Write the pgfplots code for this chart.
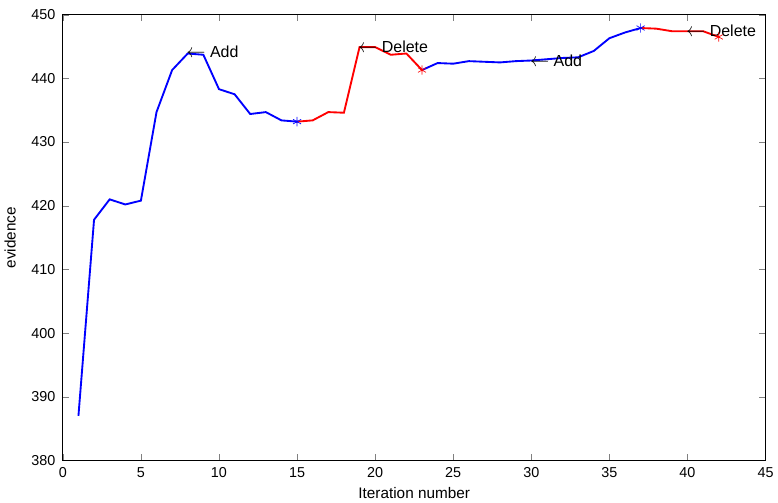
\documentclass[border=0pt]{standalone}
\usepackage{pgfplots}
\pgfplotsset{compat=1.18}
\usepackage{fontspec}
\setmainfont{Liberation Sans}
\newcommand{\larr}{{\fontsize{14}{14}\selectfont$\leftarrow$}}
\begin{document}
\begin{tikzpicture}
\begin{axis}[
    width=528pt, height=335pt,
    scale only axis,
    xmin=0, xmax=45, ymin=380, ymax=450,
    xtick={0,5,...,45}, ytick={380,390,...,450},
    tick align=inside,
    tick pos=both,
    major tick length=5pt,
    xlabel={Iteration number},
    ylabel={evidence},
    xlabel style={yshift=0pt},
    ylabel style={yshift=5pt},
    yticklabel style={xshift=-2pt},
    xticklabel style={yshift=-2pt},
    tick label style={font=\fontsize{10.8}{12}\selectfont},
    label style={font=\fontsize{11.5}{13}\selectfont},
    /pgf/number format/assume math mode=true,
    axis line style={line width=0.6pt},
    clip=false,
]
% add phases (blue)
\addplot[blue, line width=1.4pt] coordinates {
 (1,387.0)(2,417.8)(3,421.0)(4,420.2)(5,420.8)(6,434.7)(7,441.3)(8,443.9)
 (9,443.7)(10,438.3)(11,437.5)(12,434.4)(13,434.7)(14,433.4)(15,433.2)};
\addplot[blue, line width=1.4pt] coordinates {
 (23,441.3)(24,442.4)(25,442.3)(26,442.7)(27,442.6)(28,442.5)(29,442.7)
 (30,442.8)(31,443.0)(32,443.2)(33,443.3)(34,444.3)(35,446.3)(36,447.2)(37,447.9)};
% delete phases (red)
\addplot[red, line width=1.4pt] coordinates {
 (15,433.2)(16,433.4)(17,434.7)(18,434.6)(19,444.9)(20,444.9)(21,443.7)(22,443.9)(23,441.3)};
\addplot[red, line width=1.4pt] coordinates {
 (37,447.9)(38,447.8)(39,447.4)(40,447.4)(41,447.4)(42,446.5)};
% switch points
\addplot[blue, only marks, mark=asterisk, mark size=3.5pt, line width=0.5pt] coordinates {(15,433.2)(37,447.9)};
\addplot[red, only marks, mark=asterisk, mark size=3.5pt, line width=0.5pt] coordinates {(23,441.3)(42,446.5)};
% annotations
\node[anchor=west, inner sep=0pt, font=\fontsize{12}{13}\selectfont] at (axis cs:7.9,444.1) {\larr\ Add};
\node[anchor=west, inner sep=0pt, font=\fontsize{12}{13}\selectfont] at (axis cs:18.9,445.0) {\larr\ Delete};
\node[anchor=west, inner sep=0pt, font=\fontsize{12}{13}\selectfont] at (axis cs:29.9,442.7) {\larr\ Add};
\node[anchor=west, inner sep=0pt, font=\fontsize{12}{13}\selectfont] at (axis cs:39.9,447.5) {\larr\ Delete};
% white margin above the frame, as in the reference
\path (rel axis cs:0,1) -- ++(0pt,11pt);
\end{axis}
\end{tikzpicture}
\end{document}
